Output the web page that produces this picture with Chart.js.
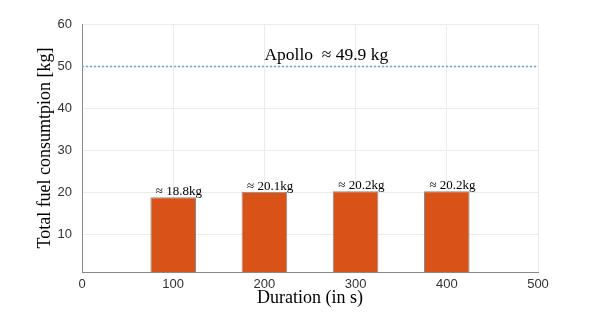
<!DOCTYPE html>
<html>
<head>
<meta charset="utf-8">
<script src="https://cdn.jsdelivr.net/npm/chart.js@4.4.1/dist/chart.umd.min.js"></script>
<style>
  html, body { margin: 0; padding: 0; background: #fff; }
  canvas { display: block; }
</style>
</head>
<body>
<canvas id="fuelChart" width="599" height="312"></canvas>
<script>
const durations = [100, 200, 300, 400]
const fuelUsed = [18.8, 20.1, 20.2, 20.2]
const apolloFuel = 49.9
const apolloSpan = [0, 500]
const xTicks = [0, 100, 200, 300, 400, 500]
const yTicks = [10, 20, 30, 40, 50, 60]

const serif = '"Liberation Serif", "DejaVu Serif", serif'
const sans = '"Liberation Sans", Arial, sans-serif'

// text labels + axis titles drawn on top
const labelsPlugin = {
    id: 'labels',
    afterDatasetsDraw(chart) {
        const ctx = chart.ctx
        const xs = chart.scales.x
        const ys = chart.scales.y
        ctx.save()
        ctx.fillStyle = '#000'
        ctx.textAlign = 'left'
        ctx.textBaseline = 'middle'
        ctx.font = '13px ' + serif
        durations.forEach((d, i) => {
            ctx.fillText('\u2248 ' + fuelUsed[i].toFixed(1) + 'kg', xs.getPixelForValue(d - 19), ys.getPixelForValue(fuelUsed[i] + 1.3))
        })
        ctx.font = '17.5px ' + serif
        ctx.fillText('Apollo  \u2248 ' + apolloFuel.toFixed(1) + ' kg', xs.getPixelForValue(200), ys.getPixelForValue(apolloFuel + 2.6))
        ctx.restore()
    },
    afterDraw(chart) {
        const ctx = chart.ctx
        const a = chart.chartArea
        ctx.save()
        ctx.fillStyle = '#000'
        ctx.font = '18px ' + serif
        ctx.textAlign = 'center'
        ctx.textBaseline = 'middle'
        ctx.fillText('Duration (in s)', (a.left + a.right) / 2, 298)
        ctx.translate(45, (a.top + a.bottom) / 2)
        ctx.rotate(-Math.PI / 2)
        ctx.fillText('Total fuel consumtpion [kg]', 0, 0)
        ctx.restore()
    }
}

new Chart(document.getElementById('fuelChart'), {
    type: 'bar',
    data: {
        datasets: [{
            type: 'line',
            data: apolloSpan.map(x => ({x: x, y: apolloFuel})),
            borderColor: '#5aaee0',
            borderWidth: 1.5,
            borderDash: [2, 2],
            pointRadius: 0,
            fill: false
        }, {
            data: durations.map((d, i) => ({x: d, y: fuelUsed[i]})),
            backgroundColor: '#d95319',
            borderColor: '#8a8a8a',
            borderWidth: 1,
            barPercentage: 0.5,
            categoryPercentage: 1
        }]
    },
    options: {
        responsive: false,
        animation: false,
        layout: { padding: { left: 0, top: 24, right: 61, bottom: 0 } },
        plugins: { legend: { display: false }, tooltip: { enabled: false } },
        scales: {
            x: {
                type: 'linear',
                offset: false,
                min: 0, max: 500,
                afterBuildTicks: s => { s.ticks = xTicks.map(v => ({value: v})) },
                afterFit: s => { s.height = 40 },
                grid: { color: '#ebebeb', drawTicks: false, offset: false },
                border: { color: '#8a8a8a' },
                ticks: { padding: 5, color: '#333', font: { family: sans, size: 13 }, maxRotation: 0 }
            },
            y: {
                min: 1, max: 60,
                afterBuildTicks: s => { s.ticks = yTicks.map(v => ({value: v})) },
                afterFit: s => { s.width = 82 },
                grid: { color: '#ebebeb', drawTicks: false },
                border: { color: '#8a8a8a' },
                ticks: { padding: 10, color: '#333', font: { family: sans, size: 13 } }
            }
        }
    },
    plugins: [labelsPlugin]
})
</script>
</body>
</html>
